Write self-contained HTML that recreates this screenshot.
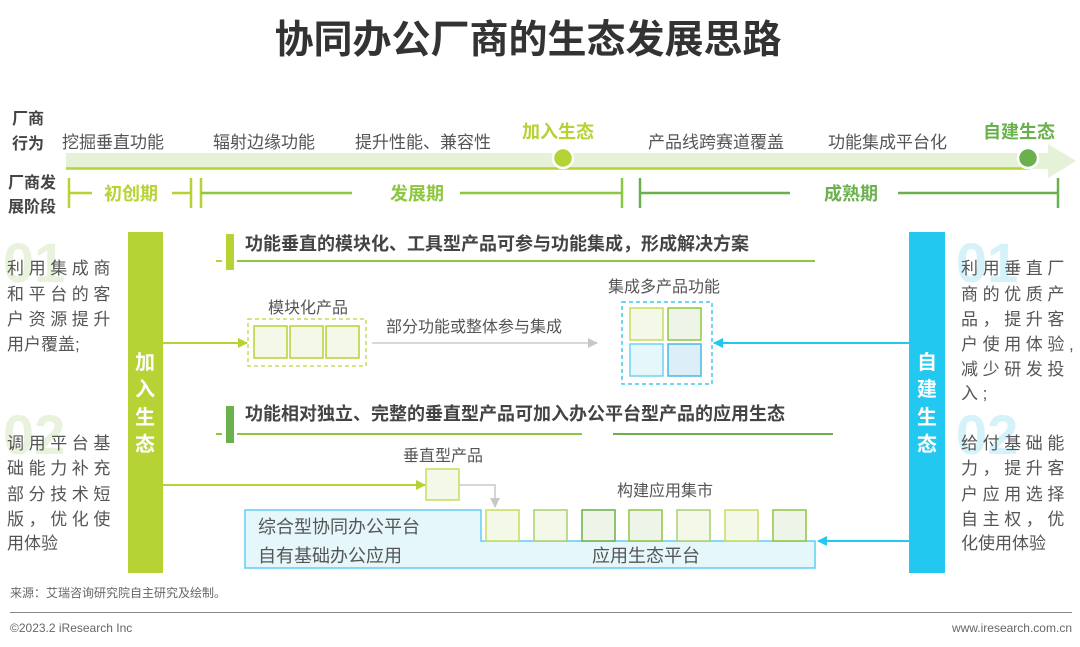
<!DOCTYPE html>
<html><head><meta charset="utf-8"><style>
html,body{margin:0;padding:0;background:#fff;}
svg{display:block;font-family:"Liberation Sans","Noto Sans CJK SC",sans-serif;}
</style></head><body>
<svg width="1080" height="647" viewBox="0 0 1080 647" xmlns="http://www.w3.org/2000/svg">
<defs>
<marker id="ag" markerWidth="10" markerHeight="10" refX="9" refY="5" orient="auto" markerUnits="userSpaceOnUse"><path d="M0,0 L10,5 L0,10 Z" fill="#b5d334"/></marker>
<marker id="ab" markerWidth="10" markerHeight="10" refX="9" refY="5" orient="auto" markerUnits="userSpaceOnUse"><path d="M0,0 L10,5 L0,10 Z" fill="#22c8f0"/></marker>
<marker id="ay" markerWidth="10" markerHeight="10" refX="9" refY="5" orient="auto" markerUnits="userSpaceOnUse"><path d="M0,0 L10,5 L0,10 Z" fill="#c8c8c8"/></marker>
</defs>
<text x="528" y="53" text-anchor="middle" font-size="39" font-weight="bold" fill="#333">协同办公厂商的生态发展思路</text>

<!-- timeline -->
<text x="12" y="124" font-size="16" font-weight="bold" fill="#444">厂商</text>
<text x="12" y="149" font-size="16" font-weight="bold" fill="#444">行为</text>
<path d="M66,153 H1048 V144 L1076,161 L1048,178 V169 H66 Z" fill="#e6f2d8"/>
<line x1="66" y1="168.5" x2="1030" y2="168.5" stroke="#b5d334" stroke-width="2.5"/>
<circle cx="563" cy="158" r="10" fill="#b5d334" stroke="#fff" stroke-width="2.5"/>
<circle cx="1028" cy="158" r="10" fill="#6ab04c" stroke="#fff" stroke-width="2.5"/>
<g font-size="17" fill="#555">
<text x="62" y="148">挖掘垂直功能</text>
<text x="213" y="148">辐射边缘功能</text>
<text x="355" y="148">提升性能、兼容性</text>
<text x="648" y="148">产品线跨赛道覆盖</text>
<text x="828" y="148">功能集成平台化</text>
</g>
<text x="522" y="138" font-size="18" font-weight="bold" fill="#b5d334">加入生态</text>
<text x="983" y="138" font-size="18" font-weight="bold" fill="#6ab04c">自建生态</text>

<text x="8" y="188" font-size="16" font-weight="bold" fill="#444">厂商发</text>
<text x="8" y="212" font-size="16" font-weight="bold" fill="#444">展阶段</text>
<g stroke="#b5d334" stroke-width="2.5">
<line x1="69" y1="178" x2="69" y2="208"/><line x1="69" y1="193" x2="92" y2="193"/>
<line x1="172" y1="193" x2="192" y2="193"/><line x1="191" y1="178" x2="191" y2="208"/>
<line x1="201" y1="178" x2="201" y2="208"/>
</g>
<g stroke="#8dc63f" stroke-width="2.5">
<line x1="201" y1="193" x2="352" y2="193"/><line x1="460" y1="193" x2="622" y2="193"/>
<line x1="622" y1="178" x2="622" y2="208"/>
</g>
<g stroke="#6ab04c" stroke-width="2.5">
<line x1="640" y1="178" x2="640" y2="208"/><line x1="640" y1="193" x2="790" y2="193"/>
<line x1="898" y1="193" x2="1058" y2="193"/><line x1="1058" y1="178" x2="1058" y2="208"/>
</g>
<text x="104" y="200" font-size="18" font-weight="bold" fill="#b5d334">初创期</text>
<text x="390" y="200" font-size="18" font-weight="bold" fill="#8dc63f">发展期</text>
<text x="824" y="200" font-size="18" font-weight="bold" fill="#6ab04c">成熟期</text>

<!-- left texts -->
<text x="3" y="282" font-size="56" font-weight="bold" fill="#e8f2dc">01</text>
<text x="3" y="454" font-size="56" font-weight="bold" fill="#e8f2dc">02</text>
<g font-size="17" fill="#555" letter-spacing="4.6">
<text x="7" y="274">利用集成商</text>
<text x="7" y="300">和平台的客</text>
<text x="7" y="325">户资源提升</text>
<text x="7" y="350" letter-spacing="0">用户覆盖;</text>
<text x="7" y="449">调用平台基</text>
<text x="7" y="474">础能力补充</text>
<text x="7" y="500">部分技术短</text>
<text x="7" y="525">版，优化使</text>
<text x="7" y="549" letter-spacing="0">用体验</text>
</g>
<!-- right texts -->
<text x="956" y="282" font-size="56" font-weight="bold" fill="#d5f2fb">01</text>
<text x="956" y="454" font-size="56" font-weight="bold" fill="#d5f2fb">02</text>
<g font-size="17" fill="#555" letter-spacing="4.6">
<text x="961" y="274">利用垂直厂</text>
<text x="961" y="300">商的优质产</text>
<text x="961" y="325">品，提升客</text>
<text x="961" y="350">户使用体验,</text>
<text x="961" y="375">减少研发投</text>
<text x="961" y="399">入;</text>
<text x="961" y="449">给付基础能</text>
<text x="961" y="474">力，提升客</text>
<text x="961" y="500">户应用选择</text>
<text x="961" y="525">自主权，优</text>
<text x="961" y="549" letter-spacing="0">化使用体验</text>
</g>

<!-- vertical bars -->
<rect x="128" y="232" width="35" height="341" fill="#b5d334"/>
<rect x="909" y="232" width="36" height="341" fill="#22c8f0"/>
<g font-size="20" font-weight="bold" fill="#fff" text-anchor="middle">
<text x="145" y="369">加</text><text x="145" y="396">入</text><text x="145" y="424">生</text><text x="145" y="451">态</text>
<text x="927" y="369">自</text><text x="927" y="396">建</text><text x="927" y="424">生</text><text x="927" y="451">态</text>
</g>

<!-- heading 1 -->
<rect x="226" y="234" width="8" height="36" fill="#b5d334"/>
<line x1="216" y1="261" x2="222" y2="261" stroke="#b5d334" stroke-width="2"/>
<line x1="237" y1="261" x2="815" y2="261" stroke="#8dc63f" stroke-width="2"/>
<text x="245" y="250" font-size="18" font-weight="bold" fill="#444">功能垂直的模块化、工具型产品可参与功能集成，形成解决方案</text>

<!-- module -->
<text x="268" y="313" font-size="16" fill="#555">模块化产品</text>
<rect x="248" y="319" width="118" height="47" fill="none" stroke="#c5dd5a" stroke-width="1.5" stroke-dasharray="4,3"/>
<g fill="#f4f8e8" stroke="#b5d334" stroke-width="1.5">
<rect x="254" y="326" width="33" height="32"/><rect x="290" y="326" width="33" height="32"/><rect x="326" y="326" width="33" height="32"/>
</g>
<line x1="163" y1="343" x2="247" y2="343" stroke="#b5d334" stroke-width="2" marker-end="url(#ag)"/>
<line x1="372" y1="343" x2="597" y2="343" stroke="#d8d8d8" stroke-width="2" marker-end="url(#ay)"/>
<text x="386" y="332" font-size="16" fill="#555">部分功能或整体参与集成</text>

<text x="608" y="292" font-size="16" fill="#555">集成多产品功能</text>
<rect x="622" y="302" width="90" height="82" fill="none" stroke="#3cc8ef" stroke-width="1.5" stroke-dasharray="4,3"/>
<rect x="630" y="308" width="33" height="32" fill="#f4f8e8" stroke="#c5dd5a" stroke-width="1.5"/>
<rect x="668" y="308" width="33" height="32" fill="#eef5e8" stroke="#8dc63f" stroke-width="1.5"/>
<rect x="630" y="344" width="33" height="32" fill="#e6f7fc" stroke="#6dd3f2" stroke-width="1.5"/>
<rect x="668" y="344" width="33" height="32" fill="#dceff9" stroke="#4ab7e8" stroke-width="1.5"/>
<line x1="909" y1="343" x2="714" y2="343" stroke="#22c8f0" stroke-width="2" marker-end="url(#ab)"/>

<!-- heading 2 -->
<rect x="226" y="406" width="8" height="37" fill="#6ab04c"/>
<line x1="216" y1="434" x2="222" y2="434" stroke="#8dc63f" stroke-width="2"/>
<line x1="237" y1="434" x2="582" y2="434" stroke="#8dc63f" stroke-width="2"/>
<line x1="613" y1="434" x2="833" y2="434" stroke="#6ab04c" stroke-width="2"/>
<text x="245" y="420" font-size="18" font-weight="bold" fill="#444">功能相对独立、完整的垂直型产品可加入办公平台型产品的应用生态</text>

<text x="403" y="461" font-size="16" fill="#555">垂直型产品</text>
<rect x="426" y="469" width="33" height="31" fill="#f4f8e8" stroke="#c5dd5a" stroke-width="1.5"/>
<line x1="163" y1="485" x2="425" y2="485" stroke="#b5d334" stroke-width="2" marker-end="url(#ag)"/>
<polyline points="459,485 495,485 495,507" fill="none" stroke="#c8c8c8" stroke-width="1.5" marker-end="url(#ay)"/>
<text x="617" y="496" font-size="16" fill="#555">构建应用集市</text>

<path d="M245,510 H481 V541 H815 V568 H245 Z" fill="#e6f7fc" stroke="#5fcdef" stroke-width="1.5"/>
<g stroke-width="1.5">
<rect x="486" y="510" width="33" height="31" fill="#f4f8e8" stroke="#c5dd5a"/>
<rect x="534" y="510" width="33" height="31" fill="#f4f8e8" stroke="#a8d070"/>
<rect x="582" y="510" width="33" height="31" fill="#eef5e8" stroke="#6ab04c"/>
<rect x="629" y="510" width="33" height="31" fill="#eef5e8" stroke="#8dc63f"/>
<rect x="677" y="510" width="33" height="31" fill="#f4f8e8" stroke="#a8d070"/>
<rect x="725" y="510" width="33" height="31" fill="#f4f8e8" stroke="#c5dd5a"/>
<rect x="773" y="510" width="33" height="31" fill="#eef5e8" stroke="#8dc63f"/>
</g>
<text x="258" y="533" font-size="18" fill="#555">综合型协同办公平台</text>
<text x="258" y="562" font-size="18" fill="#555">自有基础办公应用</text>
<text x="592" y="562" font-size="18" fill="#555">应用生态平台</text>
<line x1="909" y1="541" x2="818" y2="541" stroke="#22c8f0" stroke-width="2" marker-end="url(#ab)"/>

<!-- footer -->
<text x="10" y="597" font-size="12" fill="#666">来源：艾瑞咨询研究院自主研究及绘制。</text>
<line x1="10" y1="612.5" x2="1072" y2="612.5" stroke="#888" stroke-width="1"/>
<text x="10" y="632" font-size="12" fill="#666">©2023.2 iResearch Inc</text>
<text x="1072" y="632" font-size="12" fill="#666" text-anchor="end">www.iresearch.com.cn</text>
</svg>
</body></html>
